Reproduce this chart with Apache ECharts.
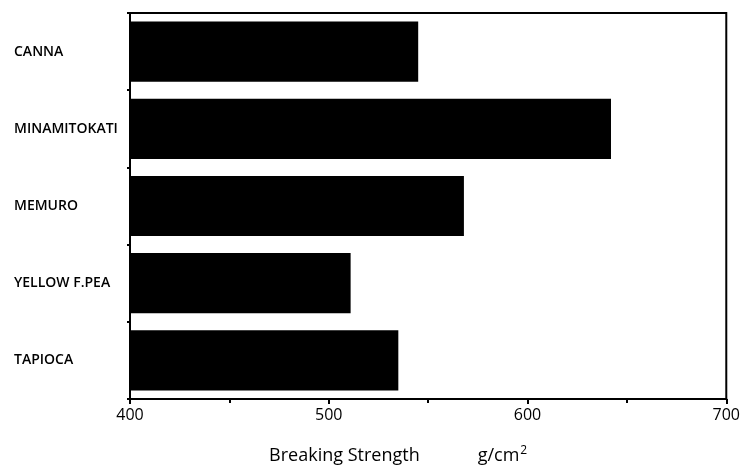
<!DOCTYPE html>
<html>
<head>
<meta charset="utf-8">
<script src="https://cdn.jsdelivr.net/npm/echarts@6/dist/echarts.min.js"></script>
<style>
  html, body { margin: 0; padding: 0; background: #fff; }
  #chart { width: 743px; height: 473px; }
</style>
</head>
<body>
<div id="chart"></div>
<script>
// starch varieties, top to bottom
const varieties = ["CANNA", "MINAMITOKATI", "MEMURO", "YELLOW F.PEA", "TAPIOCA"];
// breaking strength, g/cm2
const strength = [545, 642, 568, 511, 535];
const xTicks = [400, 500, 600, 700];

const chart = echarts.init(document.getElementById("chart"));

chart.setOption({
  animation: false,
  grid: {
    left: 130,
    right: 16,
    top: 13,
    bottom: 74,
    show: true,
    borderColor: "#000",
    borderWidth: 2,
  },
  xAxis: {
    type: "value",
    min: xTicks[0],
    max: xTicks[xTicks.length - 1],
    interval: 100,
    name: "{t|Breaking Strength}{g|}{t|g/cm}{s|2}",
    nameLocation: "middle",
    nameGap: 46,
    nameTextStyle: {
      padding: [0, 60, 0, 0],
      rich: {
        t: { fontFamily: "Open Sans", fontSize: 18, color: "#000" },
        g: { width: 58 },
        s: { fontFamily: "Open Sans", fontSize: 12, color: "#000", verticalAlign: "top", padding: [0, 0, 10, 1] },
      },
    },
    axisLine: { show: true, lineStyle: { color: "#000", width: 2 } },
    axisTick: { show: true, length: 5, lineStyle: { color: "#000", width: 2 } },
    minorTick: { show: true, splitNumber: 2, length: 4, lineStyle: { color: "#000", width: 2 } },
    splitLine: { show: false },
    axisLabel: {
      color: "#000",
      fontFamily: "Open Sans",
      fontSize: 16,
      margin: 8,
    },
  },
  yAxis: {
    type: "category",
    data: varieties,
    inverse: true,
    axisLine: { show: true, lineStyle: { color: "#000", width: 2 } },
    axisTick: { show: true, length: 3, lineStyle: { color: "#000", width: 2 } },
    axisLabel: {
      color: "#000",
      fontFamily: "Open Sans",
      fontWeight: 600,
      fontSize: 14,
      align: "left",
      margin: 116,
    },
  },
  series: [
    {
      type: "bar",
      data: strength,
      barCategoryGap: "22%",
      itemStyle: { color: "#000" },
    },
  ],
});
</script>
</body>
</html>
